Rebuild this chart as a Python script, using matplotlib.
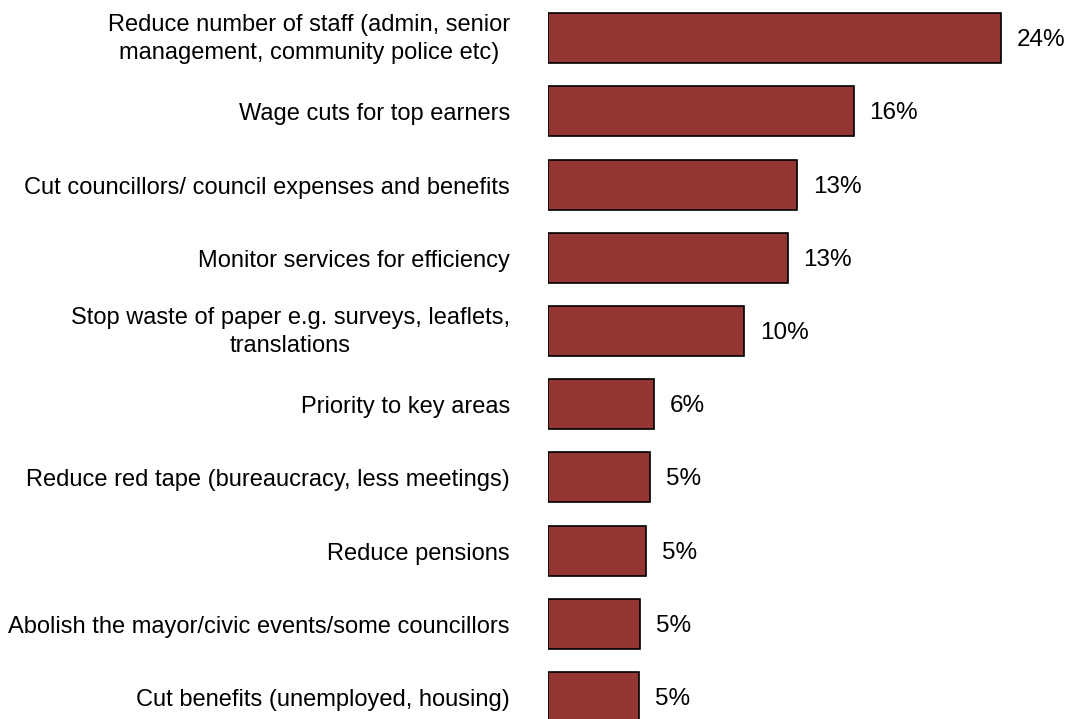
import matplotlib
matplotlib.use("Agg")
import matplotlib.pyplot as plt

plt.rcParams['font.family'] = ['Liberation Sans', 'DejaVu Sans']

categories = [
    "Reduce number of staff (admin, senior\nmanagement, community police etc)",
    "Wage cuts for top earners",
    "Cut councillors/ council expenses and benefits",
    "Monitor services for efficiency",
    "Stop waste of paper e.g. surveys, leaflets,\ntranslations",
    "Priority to key areas",
    "Reduce red tape (bureaucracy, less meetings)",
    "Reduce pensions",
    "Abolish the mayor/civic events/some councillors",
    "Cut benefits (unemployed, housing)",
]
values = [24.0, 16.2, 13.2, 12.7, 10.4, 5.6, 5.4, 5.2, 4.9, 4.8]

bar_color = "#943634"

fig = plt.figure(figsize=(10.77, 7.19), dpi=100)
ax = fig.add_axes([548 / 1077, 0.0, 529 / 1077, 1.0])

positions = list(range(len(categories)))
ax.barh(positions, values, height=0.683, color=bar_color,
        edgecolor="black", linewidth=1.2)

ax.set_xlim(0, 28.05)
ax.set_ylim(9.30, -0.523)
ax.axis("off")

for y, v, cat in zip(positions, values, categories):
    ax.annotate(f"{v:.0f}%", xy=(v, y), xytext=(16, -2),
                textcoords="offset pixels",
                ha="left", va="center", fontsize=17.5, color="black",
                annotation_clip=False)
    dy = -1 if "\n" in cat else -3
    ax.annotate(cat, xy=(0, y), xytext=(-38, dy),
                textcoords="offset pixels", ha="right", va="center",
                multialignment="center", linespacing=1.35,
                fontsize=17, color="black", annotation_clip=False)

fig.savefig("out.png", dpi=100)
